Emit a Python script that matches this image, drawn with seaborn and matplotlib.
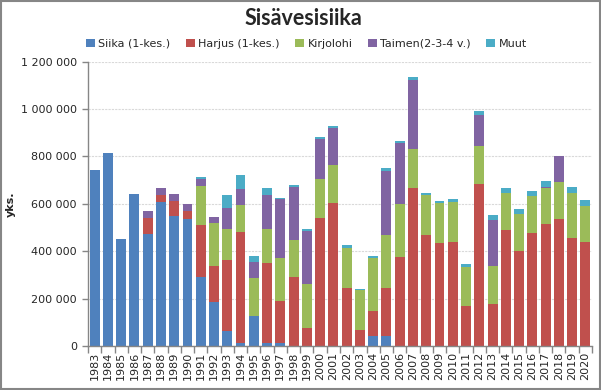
import matplotlib
matplotlib.use("Agg")
import matplotlib.pyplot as plt
import matplotlib.ticker as mticker
from matplotlib.patches import Rectangle
import seaborn as sns
import numpy as np
import pandas as pd

years = [str(y) for y in range(1983, 2021)]

siika = [743000, 815000, 452000, 642000, 474000, 608000, 550000, 536000, 291000, 187000,
         63000, 13000, 127000, 13000, 13000, 0, 0, 0, 0, 0,
         0, 42000, 42000, 0, 0, 0, 0, 0, 0, 0,
         0, 0, 0, 0, 0, 0, 0, 0]
harjus = [0, 0, 0, 0, 68000, 30000, 62000, 32000, 220000, 151000,
          300000, 468000, 0, 338000, 177000, 291000, 76000, 540000, 604000, 245000,
          68000, 106000, 203000, 376000, 667000, 469000, 435000, 439000, 169000, 684000,
          177000, 490000, 401000, 477000, 515000, 536000, 456000, 439000]
kirjolohi = [0, 0, 0, 0, 0, 0, 0, 0, 165000, 182000,
             131000, 114000, 160000, 144000, 182000, 156000, 186000, 165000, 160000, 169000,
             169000, 224000, 224000, 224000, 165000, 169000, 169000, 169000, 165000, 160000,
             160000, 156000, 156000, 156000, 152000, 156000, 190000, 152000]
taimen = [0, 0, 0, 0, 28000, 30000, 30000, 31000, 30000, 25000,
          89000, 68000, 68000, 144000, 249000, 224000, 224000, 169000, 156000, 0,
          0, 0, 270000, 257000, 291000, 0, 0, 0, 0, 131000,
          194000, 0, 0, 0, 4000, 110000, 0, 0]
muut = [0, 0, 0, 0, 0, 0, 0, 0, 6000, 0,
        55000, 59000, 25000, 30000, 4000, 8500, 8500, 8500, 8500, 12700,
        4300, 8400, 12600, 8500, 12700, 8400, 8500, 12700, 12700, 17000,
        21000, 21000, 21000, 21000, 25000, 0, 25000, 25000]

series_names = ["Siika (1-kes.)", "Harjus (1-kes.)", "Kirjolohi", "Taimen(2-3-4 v.)", "Muut"]
series_values = [siika, harjus, kirjolohi, taimen, muut]
colors = ["#4F81BD", "#C0504D", "#9BBB59", "#8064A2", "#4BACC6"]

sns.set_theme(style="white")
plt.rcParams['font.family'] = ['DejaVu Sans']

fig = plt.figure(figsize=(6.01, 3.90), dpi=100)
ax = fig.add_axes([88/601, 44/390, (592-88)/601, (346-61.7)/390])

bottom = np.zeros(len(years))
for name, vals, col in zip(series_names, series_values, colors):
    df = pd.DataFrame({"Vuosi": years, "yks.": vals})
    sns.barplot(data=df, x="Vuosi", y="yks.", color=col, width=0.75,
                bottom=bottom.copy(), ax=ax, label=name, saturation=1,
                linewidth=0, err_kws={"linewidth": 0})
    bottom += np.array(vals)

ax.set_xlim(-0.5, len(years) - 0.5)
ax.set_ylim(0, 1200000)
ax.yaxis.set_major_locator(mticker.MultipleLocator(200000))
ax.yaxis.set_major_formatter(mticker.FuncFormatter(lambda v, p: f"{int(v):,}".replace(",", " ")))
ax.yaxis.grid(True, color="#D9D9D9", linestyle=(0, (2, 1)), linewidth=0.8)
ax.set_axisbelow(True)

for s in ["top", "right"]:
    ax.spines[s].set_visible(False)
for s in ["left", "bottom"]:
    ax.spines[s].set_color("#868686")
    ax.spines[s].set_linewidth(1.0)

ax.tick_params(axis="y", which="major", length=4, width=1, color="#868686",
               labelsize=8, pad=4, direction="out", left=True)
ax.tick_params(axis="x", which="major", length=0, labelsize=8, pad=4, rotation=90)
ax.set_xticks(np.arange(-0.5, len(years), 1.0), minor=True)
ax.tick_params(axis="x", which="minor", length=5, width=1, color="#868686", direction="out", bottom=True)

ax.set_xlabel("")
ax.set_ylabel("yks.", fontsize=8, fontweight="bold")
ax.yaxis.set_label_coords((16 - 88) / 504, 0.5)

fig.text(0.505, 0.953, "Sisävesisiika", ha="center", va="center", fontsize=15.5,
         fontweight="bold", family="Lato")

handles, labels = ax.get_legend_handles_labels()
leg = fig.legend(handles, labels, loc="center", bbox_to_anchor=(0.51, 0.888), ncol=5,
                 frameon=False, fontsize=8, handlelength=0.8, handleheight=0.8,
                 handletextpad=0.3, columnspacing=1.4)
if ax.get_legend() is not None:
    ax.get_legend().remove()

fig.patches.append(Rectangle((0.001, 0.002), 0.997, 0.995, transform=fig.transFigure,
                             fill=False, edgecolor="#868686", linewidth=1.5))

fig.savefig("out.png", dpi=100)
